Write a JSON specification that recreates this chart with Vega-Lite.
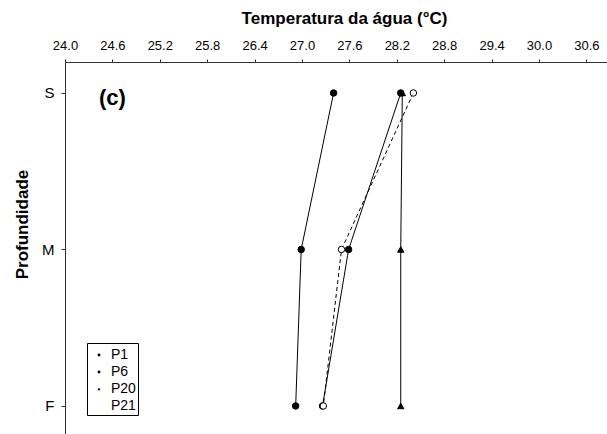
{
  "$schema": "https://vega.github.io/schema/vega-lite/v6.json",
  "width": 542,
  "height": 372,
  "autosize": "none",
  "padding": {"left": 65, "top": 62, "right": 0, "bottom": 0},
  "config": {
    "view": {"stroke": null},
    "font": "Liberation Sans",
    "axis": {"grid": false, "domainColor": "#333333", "tickColor": "#333333", "labelColor": "black", "titleColor": "black", "titleFont": "Liberation Sans", "labelFont": "Liberation Sans"},
    "legend": {"labelFont": "Liberation Sans"}
  },
  "data": {
    "values": [
      {"series": "P1", "depth": 0, "t": 27.40},
      {"series": "P1", "depth": 1, "t": 26.99},
      {"series": "P1", "depth": 2, "t": 26.92},
      {"series": "P6", "depth": 0, "t": 28.25},
      {"series": "P6", "depth": 1, "t": 27.59},
      {"series": "P6", "depth": 2, "t": 27.26},
      {"series": "P20", "depth": 0, "t": 28.27},
      {"series": "P20", "depth": 1, "t": 28.25},
      {"series": "P20", "depth": 2, "t": 28.25},
      {"series": "P21", "depth": 0, "t": 28.41},
      {"series": "P21", "depth": 1, "t": 27.50},
      {"series": "P21", "depth": 2, "t": 27.27}
    ]
  },
  "encoding": {
    "x": {
      "field": "t", "type": "quantitative",
      "scale": {"domain": [24, 30.861], "nice": false, "zero": false},
      "axis": {
        "orient": "top", "title": "Temperatura da água (°C)", "titleFontSize": 17, "titleFontWeight": "bold",
        "titleX": 279, "titleY": -39, "titleBaseline": "alphabetic",
        "values": [24.0, 24.6, 25.2, 25.8, 26.4, 27.0, 27.6, 28.2, 28.8, 29.4, 30.0, 30.6],
        "format": ".1f", "labelFontSize": 13, "tickSize": 3, "labelPadding": 7, "labelFlush": false
      }
    },
    "y": {
      "field": "depth", "type": "quantitative",
      "scale": {"domain": [-0.198, 2.179], "reverse": true, "nice": false, "zero": false},
      "axis": {
        "title": "Profundidade", "titleFontSize": 17, "titleFontWeight": "bold",
        "titleX": -38, "titleY": 162, "titleBaseline": "alphabetic", "titleAngle": -90,
        "values": [0, 1, 2], "labelExpr": "datum.value == 0 ? 'S' : datum.value == 1 ? 'M' : 'F'",
        "labelFontSize": 15, "tickSize": 4, "labelPadding": 7, "labelFlush": false
      }
    }
  },
  "layer": [
    {
      "transform": [{"filter": "datum.series !== 'P21'"}],
      "mark": {"type": "line", "color": "black", "strokeWidth": 1},
      "encoding": {
        "detail": {"field": "series", "type": "nominal"},
        "order": {"field": "depth", "type": "quantitative"}
      }
    },
    {
      "transform": [{"filter": "datum.series === 'P21'"}],
      "mark": {"type": "line", "color": "black", "strokeWidth": 1, "strokeDash": [4, 3]},
      "encoding": {
        "order": {"field": "depth", "type": "quantitative"}
      }
    },
    {
      "transform": [{"filter": "datum.series !== 'P20'"}],
      "mark": {"type": "point", "shape": "circle", "filled": true, "stroke": "black", "strokeWidth": 1, "size": 42, "opacity": 1},
      "encoding": {
        "fill": {"condition": {"test": "datum.series === 'P21'", "value": "white"}, "value": "black"}
      }
    },
    {
      "transform": [{"filter": "datum.series === 'P20'"}],
      "mark": {"type": "point", "shape": "triangle-up", "filled": true, "color": "black", "stroke": "black", "strokeWidth": 1, "size": 40, "opacity": 1}
    },
    {
      "data": {"values": [{"key": "P1"}, {"key": "P6"}, {"key": "P20"}, {"key": "P21"}]},
      "mark": {"type": "point", "filled": true, "stroke": "black", "strokeWidth": 1, "opacity": 0, "size": 361},
      "encoding": {
        "x": {"datum": 24},
        "y": {"datum": 0},
        "shape": {
          "field": "key", "type": "nominal",
          "scale": {"domain": ["P1", "P6", "P20", "P21"], "range": [
            "M-0.5,0H0.5M-0.15,0A0.15,0.15 0 1,1 0.15,0A0.15,0.15 0 1,1 -0.15,0Z",
            "M-0.5,0H0.5M-0.15,0A0.15,0.15 0 1,1 0.15,0A0.15,0.15 0 1,1 -0.15,0Z",
            "M-0.5,0H0.5M-0.16,0.13L0,-0.15L0.16,0.13Z",
            "M-0.5,0H-0.36M-0.3,0H-0.2M0.2,0H0.32M0.4,0H0.5M-0.15,0A0.15,0.15 0 1,1 0.15,0A0.15,0.15 0 1,1 -0.15,0Z"
          ]},
          "legend": {
            "title": null, "orient": "none", "legendX": 22, "legendY": 281,
            "strokeColor": "black", "padding": 2, "rowPadding": -1, "labelFontSize": 14, "labelColor": "black",
            "labelOffset": 2, "symbolSize": 361, "symbolStrokeColor": "black", "symbolStrokeWidth": 1, "symbolOpacity": 1
          }
        },
        "fill": {
          "field": "key", "type": "nominal",
          "scale": {"domain": ["P1", "P6", "P20", "P21"], "range": ["black", "black", "black", "white"]},
          "legend": {
            "title": null, "orient": "none", "legendX": 22, "legendY": 281,
            "strokeColor": "black", "padding": 2, "rowPadding": -1, "labelFontSize": 14, "labelColor": "black",
            "labelOffset": 2, "symbolSize": 361, "symbolStrokeColor": "black", "symbolStrokeWidth": 1, "symbolOpacity": 1
          }
        }
      }
    },
    {
      "data": {"values": [{"label": "(c)", "t": 24.6, "depth": 0.03}]},
      "mark": {"type": "text", "fontSize": 22, "fontWeight": "bold", "font": "Liberation Sans", "color": "black"},
      "encoding": {
        "text": {"field": "label"}
      }
    }
  ]
}
